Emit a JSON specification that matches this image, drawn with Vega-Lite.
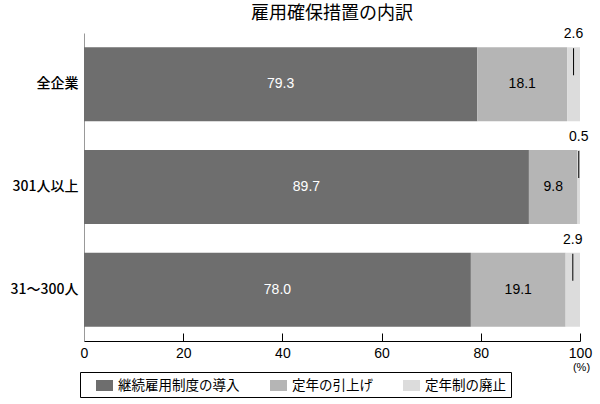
{
  "$schema": "https://vega.github.io/schema/vega-lite/v6.json",
  "autosize": "none",
  "width": 496,
  "height": 308,
  "padding": {"left": 84, "top": 33, "right": 20, "bottom": 63},
  "config": {
    "view": {"stroke": null},
    "font": "Noto Sans CJK JP"
  },
  "title": {
    "text": "雇用確保措置の内訳",
    "fontSize": 18,
    "fontWeight": "normal",
    "offset": 4
  },
  "data": {
    "values": [
      {"group": "全企業", "type": "継続雇用制度の導入", "order": 1, "value": 79.3},
      {"group": "全企業", "type": "定年の引上げ", "order": 2, "value": 18.1},
      {"group": "全企業", "type": "定年制の廃止", "order": 3, "value": 2.6},
      {"group": "301人以上", "type": "継続雇用制度の導入", "order": 1, "value": 89.7},
      {"group": "301人以上", "type": "定年の引上げ", "order": 2, "value": 9.8},
      {"group": "301人以上", "type": "定年制の廃止", "order": 3, "value": 0.5},
      {"group": "31〜300人", "type": "継続雇用制度の導入", "order": 1, "value": 78.0},
      {"group": "31〜300人", "type": "定年の引上げ", "order": 2, "value": 19.1},
      {"group": "31〜300人", "type": "定年制の廃止", "order": 3, "value": 2.9}
    ]
  },
  "encoding": {
    "y": {
      "field": "group", "type": "nominal", "sort": null, "title": null,
      "scale": {"paddingInner": 0.28, "paddingOuter": 0.14},
      "axis": {"domain": true, "domainColor": "#999999", "ticks": false, "labelFontSize": 14, "labelFontWeight": 500, "labelPadding": 6, "labelColor": "black"}
    },
    "x": {
      "field": "value", "type": "quantitative", "stack": "zero",
      "scale": {"domain": [0, 100]},
      "title": "(%)",
      "axis": {
        "grid": false, "values": [0, 20, 40, 60, 80, 100], "tickSize": -8,
        "domainColor": "black", "tickColor": "black", "labelColor": "black",
        "labelFont": "Liberation Sans", "labelFontSize": 14, "labelPadding": 13, "labelFlush": false,
        "titleFont": "Liberation Sans", "titleFontSize": 11, "titleFontWeight": "normal", "titleX": 497, "titleY": 20, "titleBaseline": "top"
      }
    },
    "order": {"field": "order"}
  },
  "layer": [
    {
      "mark": {"type": "bar"},
      "encoding": {
        "color": {
          "field": "type", "type": "nominal", "title": null,
          "scale": {
            "domain": ["継続雇用制度の導入", "定年の引上げ", "定年制の廃止"],
            "range": ["#6e6e6e", "#b5b5b5", "#dcdcdc"]
          },
          "legend": {
            "orient": "none", "legendX": -4, "legendY": 339, "direction": "horizontal",
            "strokeColor": "black", "padding": 5,
            "symbolType": "M-1,-0.65H1V0.65H-1Z", "symbolSize": 289, "symbolStrokeWidth": 0, "symbolOpacity": 1,
            "symbolOffset": 11, "labelOffset": 5,
            "labelFontSize": 13.5, "labelColor": "black", "columnPadding": 19, "labelLimit": 200
          }
        }
      }
    },
    {
      "mark": {"type": "text", "fontSize": 14, "font": "Liberation Sans"},
      "encoding": {
        "x": {"field": "value", "type": "quantitative", "stack": "zero", "bandPosition": 0.5},
        "text": {"field": "value", "type": "quantitative", "format": ".1f"},
        "color": {"condition": {"test": "datum.order === 1", "value": "white"}, "value": "black"},
        "opacity": {"condition": {"test": "datum.order === 3", "value": 0}, "value": 1}
      }
    },
    {
      "mark": {"type": "text", "fontSize": 14, "font": "Liberation Sans", "yOffset": -50, "color": "black"},
      "encoding": {
        "x": {"field": "value", "type": "quantitative", "stack": "zero", "bandPosition": 0.5},
        "text": {"field": "value", "type": "quantitative", "format": ".1f"},
        "opacity": {"condition": {"test": "datum.order === 3", "value": 1}, "value": 0}
      }
    },
    {
      "mark": {"type": "tick", "size": 27, "thickness": 1, "yOffset": -22.5, "color": "black"},
      "encoding": {
        "x": {"field": "value", "type": "quantitative", "stack": "zero", "bandPosition": 0.5},
        "opacity": {"condition": {"test": "datum.order === 3", "value": 1}, "value": 0}
      }
    }
  ]
}
